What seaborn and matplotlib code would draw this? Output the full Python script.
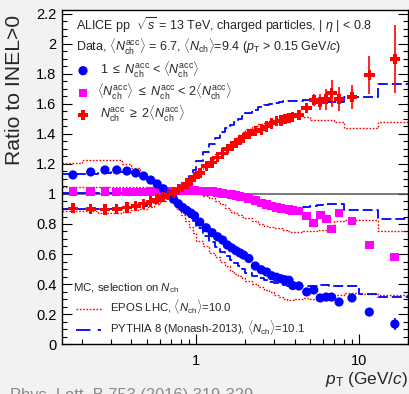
import numpy as np
import matplotlib
matplotlib.use("Agg")
import matplotlib.pyplot as plt
from matplotlib.ticker import FixedLocator, NullFormatter, MultipleLocator, FixedFormatter
import seaborn as sns

sns.set_style("ticks")
plt.rcParams['font.family'] = ['Liberation Sans', 'DejaVu Sans']
plt.rcParams['mathtext.fontset'] = 'custom'
plt.rcParams['mathtext.rm'] = 'Liberation Sans'
plt.rcParams['mathtext.it'] = 'Liberation Sans:italic'
plt.rcParams['mathtext.bf'] = 'Liberation Sans:bold'

# ---------------- data ----------------
pt_edges = [0.15, 0.2, 0.25, 0.3, 0.35, 0.4, 0.45, 0.5, 0.55, 0.6, 0.65, 0.7, 0.75, 0.8, 0.85, 0.9, 0.95, 1.0,
            1.1, 1.2, 1.3, 1.4, 1.5, 1.6, 1.7, 1.8, 1.9, 2.0,
            2.2, 2.4, 2.6, 2.8, 3.0, 3.2, 3.4, 3.6, 3.8, 4.0,
            4.5, 5.0, 5.5, 6.0, 6.5, 7.0,
            8.0, 10.0, 13.0, 20.0]
pt = [0.175, 0.225, 0.275, 0.325, 0.375, 0.425, 0.475, 0.525, 0.575, 0.625, 0.675, 0.725, 0.775, 0.825, 0.875, 0.925, 0.975,
      1.05, 1.15, 1.25, 1.35, 1.45, 1.55, 1.65, 1.75, 1.85, 1.95,
      2.1, 2.3, 2.5, 2.7, 2.9, 3.1, 3.3, 3.5, 3.7, 3.9,
      4.25, 4.75, 5.25, 5.75, 6.25, 6.75,
      7.5, 9.0, 11.5, 16.5]

low_mult = [1.127, 1.147, 1.16, 1.16, 1.153, 1.14, 1.12, 1.093, 1.067, 1.035, 1.0, 0.965, 0.935, 0.91, 0.89, 0.873, 0.855,
            0.813, 0.775, 0.742, 0.715, 0.693, 0.66, 0.64, 0.622, 0.607, 0.593,
            0.57, 0.52, 0.495, 0.48, 0.455, 0.445, 0.435, 0.428, 0.425, 0.39,
            0.387, 0.347, 0.36, 0.307, 0.313, 0.313,
            0.28, 0.307, 0.213, 0.133]
low_err = [0.004] * 37 + [0.006, 0.008, 0.009, 0.01, 0.011, 0.012, 0.012, 0.014, 0.025, 0.04]

mid_mult = [1.015, 1.015, 1.015, 1.013, 1.013, 1.013, 1.013, 1.015, 1.015, 1.017, 1.018, 1.02, 1.02, 1.022, 1.022, 1.022, 1.022,
            1.02, 1.018, 1.015, 1.01, 1.005, 1.0, 0.995, 0.99, 0.985, 0.98,
            0.97, 0.955, 0.94, 0.93, 0.92, 0.912, 0.905, 0.9, 0.895, 0.89,
            0.887, 0.853, 0.807, 0.86, 0.833, 0.767,
            0.873, 0.82, 0.66, 0.58]

high_mult = [0.905, 0.9, 0.897, 0.9, 0.91, 0.92, 0.935, 0.95, 0.965, 0.98, 0.995, 1.01, 1.03, 1.047, 1.07, 1.09, 1.113,
             1.14, 1.187, 1.21, 1.245, 1.27, 1.30, 1.32, 1.34, 1.36, 1.375,
             1.40, 1.42, 1.43, 1.45, 1.47, 1.485, 1.49, 1.50, 1.505, 1.515,
             1.527, 1.573, 1.627, 1.613, 1.633, 1.673,
             1.633, 1.647, 1.793, 1.9]
high_err = [0.005] * 37 + [0.02, 0.03, 0.04, 0.055, 0.07, 0.09, 0.08, 0.08, 0.125, 0.227]

pythia_low = [1.13, 1.13, 1.14, 1.145, 1.145, 1.14, 1.12, 1.1, 1.075, 1.05, 1.02, 0.985, 0.95, 0.915, 0.88, 0.85, 0.82,
              0.77, 0.72, 0.68, 0.645, 0.615, 0.59, 0.56, 0.54, 0.52, 0.5,
              0.475, 0.455, 0.44, 0.425, 0.415, 0.405, 0.4, 0.395, 0.39, 0.39,
              0.388, 0.386, 0.39, 0.393, 0.395, 0.388,
              0.387, 0.385, 0.335, 0.315]
epos_low = [1.205, 1.225, 1.225, 1.225, 1.2, 1.17, 1.13, 1.1, 1.07, 1.04, 1.0, 0.95, 0.9, 0.86, 0.82, 0.78, 0.74,
            0.69, 0.65, 0.61, 0.58, 0.55, 0.52, 0.49, 0.47, 0.455, 0.44,
            0.42, 0.4, 0.38, 0.36, 0.345, 0.33, 0.315, 0.3, 0.295, 0.293,
            0.3, 0.307, 0.3, 0.293, 0.3, 0.32,
            0.33, 0.34, 0.335, 0.327]

pythia_mid = [1.005, 1.005, 1.005, 1.005, 1.007, 1.008, 1.01, 1.012, 1.015, 1.018, 1.02, 1.025, 1.028, 1.03, 1.032, 1.033, 1.035,
              1.035, 1.033, 1.03, 1.025, 1.02, 1.015, 1.008, 1.0, 0.995, 0.99,
              0.98, 0.965, 0.952, 0.94, 0.93, 0.92, 0.915, 0.91, 0.907, 0.905,
              0.905, 0.91, 0.92, 0.925, 0.93, 0.93,
              0.933, 0.893, 0.893, 0.833]
epos_mid = [1.045, 1.045, 1.045, 1.045, 1.045, 1.045, 1.045, 1.045, 1.045, 1.042, 1.04, 1.04, 1.038, 1.035, 1.03, 1.02, 1.01,
            1.0, 0.985, 0.97, 0.955, 0.93, 0.905, 0.88, 0.87, 0.86, 0.85,
            0.84, 0.82, 0.8, 0.785, 0.78, 0.775, 0.77, 0.76, 0.75, 0.745,
            0.745, 0.75, 0.755, 0.76, 0.76, 0.78,
            0.82, 0.83, 0.83, 0.75]

pythia_high = [0.9, 0.9, 0.9, 0.9, 0.905, 0.91, 0.92, 0.935, 0.95, 0.975, 0.99, 1.005, 1.03, 1.06, 1.09, 1.12, 1.16,
               1.22, 1.28, 1.33, 1.37, 1.41, 1.44, 1.46, 1.48, 1.5, 1.52,
               1.54, 1.56, 1.58, 1.593, 1.6, 1.608, 1.613, 1.618, 1.62, 1.622,
               1.622, 1.627, 1.613, 1.613, 1.613, 1.613,
               1.613, 1.647, 1.647, 1.733]
epos_high = [0.888, 0.885, 0.875, 0.875, 0.88, 0.89, 0.9, 0.915, 0.935, 0.955, 0.975, 0.995, 1.015, 1.04, 1.065, 1.09, 1.115,
             1.15, 1.19, 1.23, 1.265, 1.29, 1.32, 1.345, 1.37, 1.39, 1.41,
             1.435, 1.455, 1.465, 1.475, 1.485, 1.495, 1.5, 1.505, 1.51, 1.513,
             1.527, 1.51, 1.493, 1.49, 1.49, 1.49,
             1.48, 1.44, 1.44, 1.48]

x_ticks = [1, 10]
x_ticklabels = ["1", "10"]
y_ticks = [0, 0.2, 0.4, 0.6, 0.8, 1.0, 1.2, 1.4, 1.6, 1.8, 2.0, 2.2]
y_ticklabels = ["0", "0.2", "0.4", "0.6", "0.8", "1", "1.2", "1.4", "1.6", "1.8", "2", "2.2"]

# ---------------- styles ----------------
BLUE = "#0000ff"
MAG = "#ff00ff"
RED = "#ff0000"
PY_DASH = (0, (5.5, 2.2))
EPOS_DOT = (0, (1.2, 1.2))

W, H = 410, 394
fig = plt.figure(figsize=(W / 100, H / 100), dpi=100, facecolor="#f2f2f2")
x0, x1, y0, y1 = 62, 408.5, 10, 344
ax = fig.add_axes([x0 / W, 1 - y1 / H, (x1 - x0) / W, (y1 - y0) / H])
ax.set_facecolor("white")
ax.set_xscale("log")

ax.axhline(1.0, color="#555555", lw=1.1, zorder=1)

def step(vals, color, ls, lw):
    yy = list(vals) + [vals[-1]]
    sns.lineplot(x=pt_edges, y=yy, ax=ax, color=color, linestyle=ls, lw=lw,
                 drawstyle="steps-post", estimator=None, sort=False, legend=False, zorder=2)

for v in (epos_low, epos_mid, epos_high):
    step(v, RED, EPOS_DOT, 1.0)
for v in (pythia_low, pythia_mid, pythia_high):
    step(v, BLUE, PY_DASH, 1.3)

ax.errorbar(pt, low_mult, yerr=low_err, fmt="none", ecolor=BLUE, elinewidth=1.2, zorder=3)
ax.errorbar(pt, high_mult, yerr=high_err, fmt="none", ecolor=RED, elinewidth=1.2, zorder=3)

S_CIRC, S_SQ, S_PLUS = 44, 40, 56
sns.scatterplot(x=pt, y=low_mult, ax=ax, color=BLUE, marker="o", s=S_CIRC, edgecolor="none", zorder=5, legend=False)
sns.scatterplot(x=pt, y=mid_mult, ax=ax, color=MAG, marker="s", s=S_SQ, edgecolor="none", zorder=4, legend=False)
sns.scatterplot(x=pt, y=high_mult, ax=ax, color=RED, marker="P", s=S_PLUS, edgecolor="none", zorder=6, legend=False)

ax.set_xlim(0.15, 20)
ax.set_ylim(0, (y1 - y0) / 150)

ax.xaxis.set_major_locator(FixedLocator(x_ticks))
ax.xaxis.set_major_formatter(FixedFormatter(x_ticklabels))
minors = [m * d for d in (0.1, 1, 10) for m in range(2, 10)]
ax.xaxis.set_minor_locator(FixedLocator(minors))
ax.xaxis.set_minor_formatter(NullFormatter())
ax.yaxis.set_major_locator(FixedLocator(y_ticks))
ax.yaxis.set_major_formatter(FixedFormatter(y_ticklabels))
ax.yaxis.set_minor_locator(MultipleLocator(0.05))

ax.tick_params(which="both", direction="in", left=True, right=True, bottom=True, top=False, colors="black")
ax.tick_params(which="major", length=7, width=0.8, labelsize=10.5, pad=4)
ax.tick_params(axis="x", which="major", pad=7)
ax.tick_params(which="minor", length=3.5, width=0.8)
for s in ax.spines.values():
    s.set_linewidth(1.0)
    s.set_color("black")

def ax_xy(px, py):
    return ((px - x0) / (x1 - x0), (y1 - py) / (y1 - y0))

ylab = ax.set_ylabel("Ratio to INEL>0", fontsize=14.5, loc="top")
ax.yaxis.set_label_coords(ax_xy(15, 0)[0], ax_xy(0, 15)[1])
ylab.set_va("center")
xlab = ax.set_xlabel(r"$p_{\rm T}$ (GeV/$c$)", fontsize=12.5, loc="right")
ax.xaxis.set_label_coords(ax_xy(408, 0)[0], ax_xy(0, 384)[1])
xlab.set_va("baseline")

fs = 9.0
fs_mc = 8.2
ax.text(*ax_xy(76, 30), r"ALICE pp  $\sqrt{s}$ = 13 TeV, charged particles, | $\eta$ | < 0.8",
        transform=ax.transAxes, fontsize=fs, va="baseline", ha="left")
ax.text(*ax_xy(76, 51.5), r"Data, $\langle N_{\rm ch}^{\rm acc}\rangle$ = 6.7, $\langle N_{\rm ch}\rangle$=9.4 ($p_{\rm T}$ > 0.15 GeV/$c$)",
        transform=ax.transAxes, fontsize=fs, va="baseline", ha="left")

leg_items = [
    (70.7, BLUE, "o", S_CIRC, r"1 $\leq$ $N_{\rm ch}^{\rm acc}$ < $\langle N_{\rm ch}^{\rm acc}\rangle$", 100),
    (93, MAG, "s", S_SQ, r"$\langle N_{\rm ch}^{\rm acc}\rangle$ $\leq$ $N_{\rm ch}^{\rm acc}$ < 2$\langle N_{\rm ch}^{\rm acc}\rangle$", 97),
    (115, RED, "P", S_PLUS, r"$N_{\rm ch}^{\rm acc}$ $\geq$ 2$\langle N_{\rm ch}^{\rm acc}\rangle$", 100),
]
for py, c, m, s, lab, tx in leg_items:
    ax.scatter([ax_xy(83, py)[0]], [ax_xy(83, py)[1]], transform=ax.transAxes, color=c, marker=m, s=s,
               edgecolor="none", zorder=7, clip_on=False)
    ax.text(*ax_xy(tx, py + 3.5), lab, transform=ax.transAxes, fontsize=fs, va="baseline", ha="left")

ax.text(*ax_xy(73, 291), r"MC, selection on $N_{\rm ch}$", transform=ax.transAxes, fontsize=fs_mc, va="baseline")
ax.plot([ax_xy(76, 0)[0], ax_xy(101, 0)[0]], [ax_xy(0, 309)[1]] * 2, transform=ax.transAxes,
        color=RED, linestyle=EPOS_DOT, lw=1.0)
ax.text(*ax_xy(110, 311), r"EPOS LHC, $\langle N_{\rm ch}\rangle$=10.0", transform=ax.transAxes,
        fontsize=fs_mc, va="baseline")
ax.plot([ax_xy(76, 0)[0], ax_xy(101, 0)[0]], [ax_xy(0, 330)[1]] * 2, transform=ax.transAxes,
        color=BLUE, linestyle=(0, (8, 4)), lw=1.3)
ax.text(*ax_xy(110, 332), r"PYTHIA 8 (Monash-2013), $\langle N_{\rm ch}\rangle$=10.1", transform=ax.transAxes,
        fontsize=fs_mc, va="baseline")

ref = fig.text(10 / W, 1 - 400 / H, "Phys. Lett. B 753 (2016) 319-329", fontsize=11.5, color="#8a8a8a",
               va="baseline", ha="left")

# fit a few label sizes to the reference extents
renderer = fig.canvas.get_renderer()
for _ in range(2):
    for t, target in ((ref, 243), (xlab, 83)):
        w = t.get_window_extent(renderer).width
        if w > 0:
            t.set_fontsize(t.get_fontsize() * target / w)
h = ylab.get_window_extent(renderer).height
ylab.set_fontsize(ylab.get_fontsize() * 150 / h)

fig.savefig("out.png", dpi=100, facecolor=fig.get_facecolor())
